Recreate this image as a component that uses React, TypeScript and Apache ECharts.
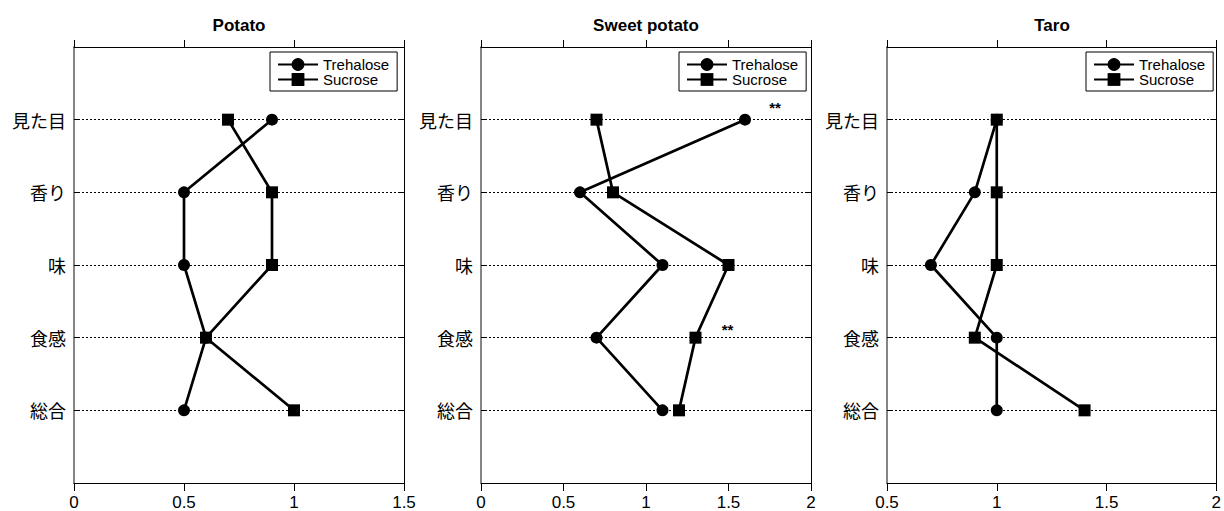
import React, { useEffect, useRef } from "react";
import * as echarts from "echarts";

const categories = ["見た目", "香り", "味", "食感", "総合"];
const panelTitles = ["Potato", "Sweet potato", "Taro"];
const seriesNames = ["Trehalose", "Sucrose"];

const potatoTrehalose = [0.9, 0.5, 0.5, 0.6, 0.5];
const potatoSucrose = [0.7, 0.9, 0.9, 0.6, 1.0];
const sweetTrehalose = [1.6, 0.6, 1.1, 0.7, 1.1];
const sweetSucrose = [0.7, 0.8, 1.5, 1.3, 1.2];
const taroTrehalose = [1.0, 0.9, 0.7, 1.0, 1.0];
const taroSucrose = [1.0, 1.0, 1.0, 0.9, 1.4];

const sweetTrehaloseMarks = ["**", "", "", "", ""];
const sweetSucroseMarks = ["", "", "", "**", ""];
const noMarks = ["", "", "", "", ""];

const xMins = [0, 0, 0.5];
const xMaxs = [1.5, 2, 2];
const xInterval = 0.5;

const panelData = [
  [potatoTrehalose, potatoSucrose],
  [sweetTrehalose, sweetSucrose],
  [taroTrehalose, taroSucrose],
];
const panelMarks = [
  [noMarks, noMarks],
  [sweetTrehaloseMarks, sweetSucroseMarks],
  [noMarks, noMarks],
];

const gridLefts = [74, 481, 887];
const gridWidth = 330;
const gridTop = 47;
const gridHeight = 437;
const legendLefts = [270, 679, 1086];

const latin = "'Liberation Sans', Arial, Helvetica, sans-serif";
const cjk = "'Noto Sans CJK JP', 'Liberation Sans', sans-serif";

export default function App() {
  const ref = useRef<HTMLDivElement>(null);
  useEffect(() => {
    if (!ref.current) return;
    const chart = echarts.init(ref.current, undefined, { renderer: "svg" });

    const grids: any[] = [];
    const xAxes: any[] = [];
    const yAxes: any[] = [];
    const series: any[] = [];
    const legends: any[] = [];
    const graphics: any[] = [];

    for (let p = 0; p < 3; p++) {
      grids.push({ left: gridLefts[p], top: gridTop, width: gridWidth, height: gridHeight });
      // bottom x axis
      xAxes.push({
        gridIndex: p,
        type: "value",
        position: "bottom",
        min: xMins[p],
        max: xMaxs[p],
        interval: xInterval,
        axisLine: { show: true, onZero: false, lineStyle: { color: "#000", width: 1 } },
        axisTick: { show: true, inside: false, length: 8, lineStyle: { color: "#000" } },
        axisLabel: {
          show: true,
          margin: 11,
          color: "#000",
          fontSize: 17,
          fontFamily: latin,
          formatter: (v: number) => String(v),
        },
        splitLine: { show: false },
      });
      // top x axis
      xAxes.push({
        gridIndex: p,
        type: "value",
        position: "top",
        min: xMins[p],
        max: xMaxs[p],
        interval: xInterval,
        axisLine: { show: true, onZero: false, lineStyle: { color: "#000", width: 1 } },
        axisTick: { show: true, inside: false, length: 7, lineStyle: { color: "#000" } },
        axisLabel: { show: false },
        splitLine: { show: false },
      });
      // left y axis
      yAxes.push({
        gridIndex: p,
        type: "value",
        position: "left",
        inverse: true,
        min: 0,
        max: categories.length + 1,
        interval: 1,
        axisLine: { show: true, onZero: false, lineStyle: { color: "#666", width: 1.6 } },
        axisTick: { show: true, inside: true, length: 6, lineStyle: { color: "#000" } },
        axisLabel: {
          show: true,
          margin: 8,
          color: "#000",
          fontSize: 18,
          fontFamily: cjk,
          formatter: (v: number) => categories[v - 1] ?? "",
        },
        splitLine: { show: true, lineStyle: { color: "#000", type: [2, 2], width: 1 } },
      });
      // right y axis
      yAxes.push({
        gridIndex: p,
        type: "value",
        position: "right",
        inverse: true,
        min: 0,
        max: categories.length + 1,
        interval: 1,
        axisLine: { show: true, onZero: false, lineStyle: { color: "#000", width: 1 } },
        axisTick: { show: true, inside: true, length: 6, lineStyle: { color: "#000" } },
        axisLabel: { show: false },
        splitLine: { show: false },
      });

      for (let s = 0; s < 2; s++) {
        const vals = panelData[p][s];
        const marks = panelMarks[p][s];
        series.push({
          type: "line",
          name: seriesNames[s],
          xAxisIndex: p * 2,
          yAxisIndex: p * 2,
          symbol: s === 0 ? "circle" : "rect",
          symbolSize: 12,
          showAllSymbol: true,
          lineStyle: { color: "#000", width: 2.7 },
          itemStyle: { color: "#000" },
          z: 3 + s,
          data: categories.map((c, i) => {
            const item: any = { value: [vals[i], i + 1] };
            if (marks[i]) {
              item.label = {
                show: true,
                formatter: marks[i],
                position: "inside",
                offset: s === 0 ? [30, -12] : [32, -8],
                color: "#000",
                fontSize: 15,
                fontWeight: "bold",
                fontFamily: latin,
              };
            }
            return item;
          }),
        });
      }

      legends.push({
        left: legendLefts[p],
        top: 52,
        orient: "vertical",
        data: seriesNames,
        itemWidth: 40,
        itemHeight: 16,
        itemGap: 0,
        padding: [5, 8, 4, 7],
        borderColor: "#000",
        borderWidth: 1,
        borderRadius: 0,
        selectedMode: false,
        textStyle: { color: "#000", fontSize: 15, fontFamily: latin },
      });

      graphics.push({
        type: "text",
        x: gridLefts[p] + gridWidth / 2,
        y: 25,
        style: {
          text: panelTitles[p],
          fill: "#000",
          font: `bold 17px ${latin}`,
          textAlign: "center",
          textVerticalAlign: "middle",
        },
      });
    }

    chart.setOption({
      animation: false,
      backgroundColor: "#fff",
      grid: grids,
      xAxis: xAxes,
      yAxis: yAxes,
      series,
      legend: legends,
      graphic: graphics,
    });
    return () => chart.dispose();
  }, []);
  return (
    <div
      ref={ref}
      style={{ position: "fixed", left: 0, top: 0, width: 1224, height: 511 }}
    />
  );
}
